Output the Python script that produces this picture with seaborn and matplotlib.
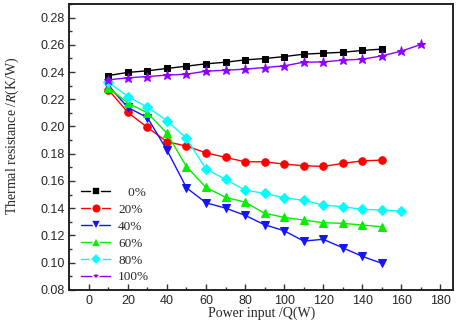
import matplotlib
matplotlib.use("Agg")
import matplotlib.pyplot as plt
import seaborn as sns
import pandas as pd
from matplotlib.ticker import MultipleLocator

# data
power = [10, 20, 30, 40, 50, 60, 70, 80, 90, 100, 110, 120, 130, 140, 150, 160, 170]
r_0 = [0.2374, 0.2397, 0.2409, 0.2426, 0.2443, 0.2460, 0.2472, 0.2489, 0.2499,
       0.2513, 0.2531, 0.2538, 0.2545, 0.2558, 0.2568]
r_20 = [0.2270, 0.2103, 0.1993, 0.1888, 0.1856, 0.1807, 0.1773, 0.1741, 0.1741,
        0.1724, 0.1712, 0.1707, 0.1729, 0.1748, 0.1753]
r_40 = [0.2300, 0.2140, 0.2065, 0.1827, 0.1550, 0.1440, 0.1401, 0.1348, 0.1279,
        0.1235, 0.1159, 0.1172, 0.1110, 0.1047, 0.0996]
r_60 = [0.2285, 0.2172, 0.2100, 0.1950, 0.1705, 0.1553, 0.1480, 0.1445, 0.1363,
        0.1333, 0.1313, 0.1294, 0.1289, 0.1277, 0.1264]
r_80 = [0.2325, 0.2220, 0.2142, 0.2043, 0.1912, 0.1687, 0.1612, 0.1533, 0.1509,
        0.1477, 0.1458, 0.1423, 0.1411, 0.1392, 0.1387, 0.1379]
r_100 = [0.2343, 0.2357, 0.2367, 0.2377, 0.2384, 0.2406, 0.2413, 0.2421, 0.2433,
         0.2445, 0.2472, 0.2474, 0.2487, 0.2494, 0.2518, 0.2553, 0.2602]

labels = ["   0%", "20%", "40%", "60%", "80%", "100%"]
series = [r_0, r_20, r_40, r_60, r_80, r_100]
colors = ["black", "#ff0000", "#1414ff", "#00f000", "#00ffff", "#8b00ff"]
markers = ["s", "o", "v", "^", "D", "*"]
msizes = [4.6, 5.4, 5.6, 5.6, 4.6, 6.5]

sns.set_style("ticks")
plt.rcParams['font.family'] = ['Liberation Sans', 'DejaVu Sans']
plt.rcParams['mathtext.fontset'] = 'stix'

fig = plt.figure(figsize=(4.59, 3.24), dpi=100)
ax = fig.add_axes([0.151, 0.105, 0.836, 0.883])

for lab, vals, c, m, ms in zip(labels, series, colors, markers, msizes):
    df = pd.DataFrame({"Q": power[:len(vals)], "R": vals})
    sns.lineplot(data=df, x="Q", y="R", ax=ax, color=c, marker=m, markersize=ms,
                 markeredgecolor=c, linewidth=1.0, label=lab)

ax.set_xlim(-10, 186.5)
ax.set_ylim(0.08, 0.29)
ax.xaxis.set_major_locator(MultipleLocator(20))
ax.xaxis.set_minor_locator(MultipleLocator(10))
ax.yaxis.set_major_locator(MultipleLocator(0.02))
ax.yaxis.set_minor_locator(MultipleLocator(0.01))
ax.set_yticks([0.08, 0.10, 0.12, 0.14, 0.16, 0.18, 0.20, 0.22, 0.24, 0.26, 0.28])
ax.set_yticklabels(["%.2f" % v for v in ax.get_yticks()])
ax.tick_params(which='both', direction='in', labelsize=9, width=1.0, color='#333333')
ax.tick_params(which='major', length=4)
ax.tick_params(which='minor', length=2.5)
for sp in ax.spines.values():
    sp.set_linewidth(1.4)
    sp.set_color('#222222')

ax.set_xlabel("Power input /Q(W)", family='Liberation Serif', fontsize=10, labelpad=0)
ax.set_ylabel("Thermal resistance /$\\mathit{R}$(K/W)", family='Liberation Serif',
              fontsize=10, labelpad=5)
ax.yaxis.set_label_coords(-0.125, 0.54)

leg = ax.legend(loc='lower left', bbox_to_anchor=(0.01, -0.005), frameon=False,
                prop={'family': 'Liberation Serif', 'size': 9.5},
                handlelength=2.2, handletextpad=0.6, labelspacing=0.36,
                borderaxespad=0.2)
# white rim round the legend markers, so the handle looks broken like the original
for h, ms in zip(leg.legend_handles, msizes):
    h.set_markeredgecolor('white')
    h.set_markeredgewidth(1.2)
    h.set_markersize(ms + 1.6)

fig.savefig("out.png", dpi=100)
